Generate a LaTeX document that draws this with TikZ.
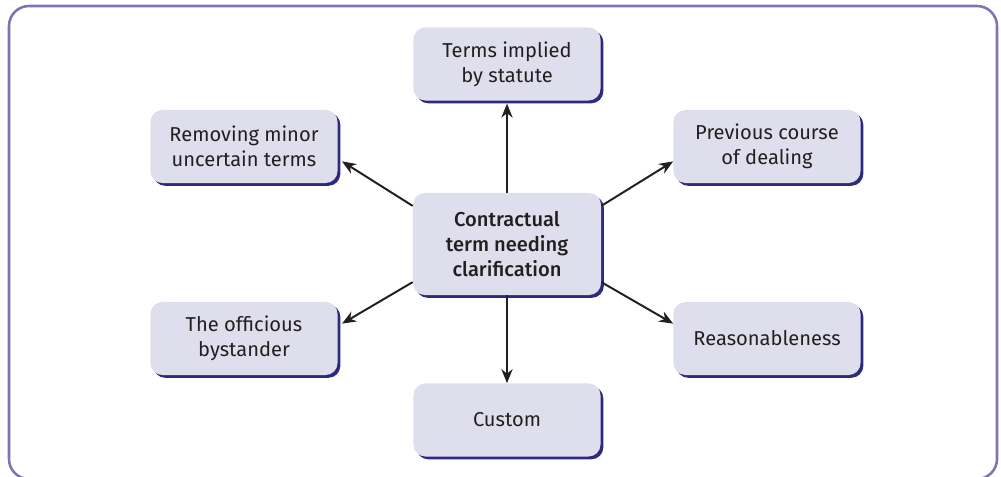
\documentclass[tikz,border=0pt]{standalone}
\usepackage{fontspec}
\setmainfont{Fira Sans}
\newfontfamily\medfont{Fira Sans Medium}
\usetikzlibrary{shadows,arrows.meta}
\definecolor{boxfill}{HTML}{DFDEEC}
\definecolor{shadowc}{HTML}{2C2A7C}
\definecolor{framec}{HTML}{7D73B5}
\definecolor{inkc}{HTML}{231F20}
\tikzset{
  termbox/.style={rectangle, rounded corners=0.3cm, fill=boxfill,
    minimum width=4.675cm, minimum height=1.825cm, align=center,
    text=inkc, font=\fontsize{14.3}{18}\selectfont, inner sep=0pt,
    drop shadow={shadow xshift=2pt, shadow yshift=-2pt, fill=shadowc, opacity=1}},
  centrebox/.style={termbox, minimum height=2.55cm, minimum width=4.7cm,
    font=\medfont\fontsize{14.3}{18}\selectfont},
  link/.style={-{Stealth[length=10pt,width=8pt]}, line width=1.4pt, draw=inkc}
}
\begin{document}
\begin{tikzpicture}[x=0.025cm,y=-0.025cm]
\useasboundingbox (0,0) rectangle (1001,476);
\draw[framec, line width=1.8pt, rounded corners=0.5cm] (9,6) rectangle (997,479);
\node[centrebox] (c) at (507,244) {Contractual\\term needing\\clarification};
\node[termbox] (t) at (507,64) {Terms implied\\by statute};
\node[termbox] (r) at (244,146.5) {Removing minor\\uncertain terms};
\node[termbox] (p) at (767,146.5) {Previous course\\of dealing};
\node[termbox] (o) at (244,338.5) {The officious\\bystander};
\node[termbox] (s) at (767,338.5) {Reasonableness};
\node[termbox] (u) at (507,420) {Custom};
\draw[link] (c.north) -- ([yshift=-2pt]t.south);
\draw[link] (c.south) -- (u.north);
\draw[link] (c.158) -- ([xshift=3pt]r.-9);
\draw[link] (c.22) -- (p.189);
\draw[link] (c.-158) -- ([xshift=3pt]o.9);
\draw[link] (c.-22) -- (s.171);
\end{tikzpicture}
\end{document}
